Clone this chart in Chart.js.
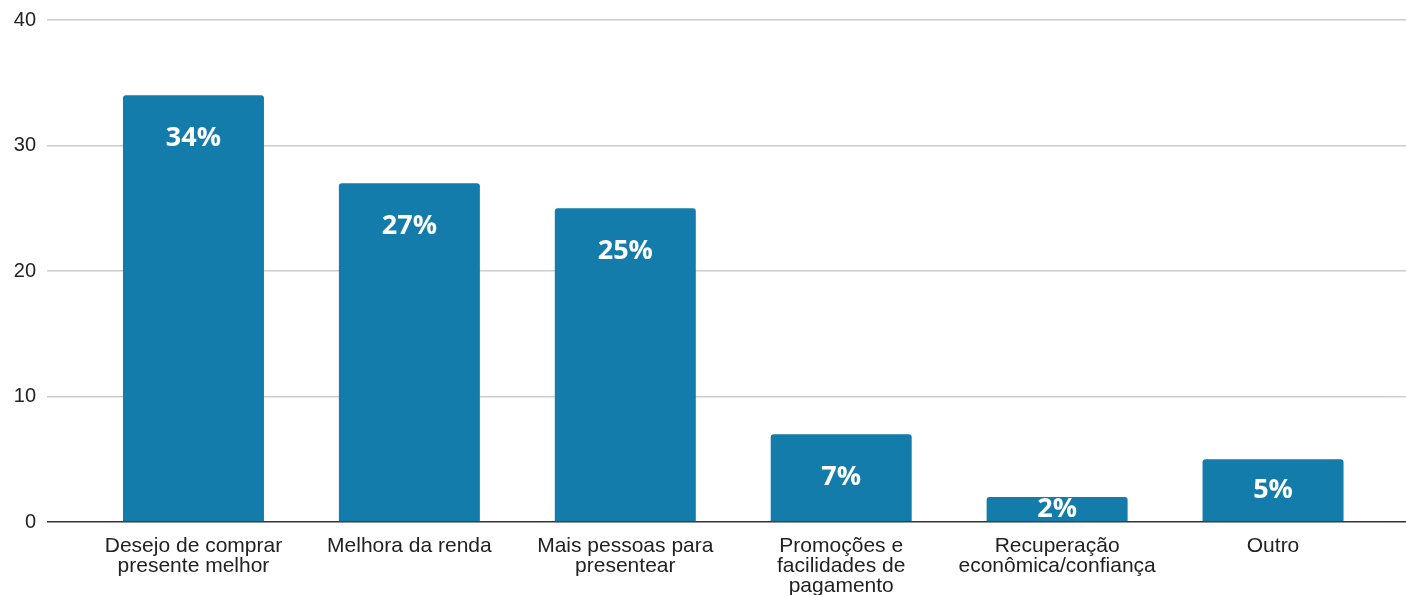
<!DOCTYPE html>
<html>
<head>
<meta charset="utf-8">
<script src="https://cdn.jsdelivr.net/npm/chart.js@4/dist/chart.umd.min.js"></script>
<style>
  html, body { margin: 0; padding: 0; background: #fff; }
  #wrap { width: 1406px; height: 595px; }
</style>
</head>
<body>
<div id="wrap"><canvas id="grafico"></canvas></div>
<script>
// motivos para gastar mais
var categorias = [
    ['Desejo de comprar', 'presente melhor'],
    'Melhora da renda',
    ['Mais pessoas para', 'presentear'],
    ['Promoções e', 'facilidades de', 'pagamento'],
    ['Recuperação', 'econômica/confiança'],
    'Outro'
];
var percentuais = [34, 27, 25, 7, 2, 5];
var ticksY = [0, 10, 20, 30, 40];

var corBarra = '#137cab';

// rótulo branco dentro de cada barra
const rotulosBarras = {
    id: 'rotulosBarras',
    afterDatasetsDraw(chart) {
        const ctx = chart.ctx;
        const meta = chart.getDatasetMeta(0);
        ctx.save();
        ctx.fillStyle = '#ffffff';
        ctx.font = 'bold 27px "Open Sans"';
        ctx.textAlign = 'center';
        ctx.textBaseline = 'middle';
        meta.data.forEach(function (barra, i) {
            var altura = barra.base - barra.y;
            var y = barra.y + Math.min(43, altura / 2);
            ctx.fillText(percentuais[i] + '%', barra.x, y);
        });
        ctx.restore();
    }
};

function corGrade(c) {
    return c.tick && c.tick.value === 0 ? '#333333' : '#cccccc';
}

function ticksFixos(escala) {
    escala.ticks = ticksY.map(function (v) { return { value: v }; });
}

new Chart(document.getElementById('grafico'), {
    type: 'bar',
    data: {
        labels: categorias,
        datasets: [{
            data: percentuais,
            backgroundColor: corBarra,
            borderRadius: { topLeft: 3, topRight: 3, bottomLeft: 0, bottomRight: 0 },
            borderSkipped: false,
            categoryPercentage: 1,
            barPercentage: 0.653
        }]
    },
    options: {
        responsive: true,
        maintainAspectRatio: false,
        animation: false,
        layout: { padding: { top: 20, left: 0, right: 0, bottom: 0 } },
        plugins: {
            legend: { display: false },
            tooltip: { enabled: false }
        },
        scales: {
            x: {
                grid: { display: false, drawTicks: false },
                border: { display: false },
                afterFit: function (escala) {
                    escala.height = 73;
                    escala.paddingLeft = 0;
                    escala.paddingRight = 0;
                },
                ticks: {
                    color: '#222',
                    padding: 14,
                    maxRotation: 0,
                    autoSkip: false,
                    font: { family: '"Liberation Sans", Arial', size: 21, lineHeight: 0.96 }
                }
            },
            y: {
                min: 0,
                max: 40,
                afterBuildTicks: ticksFixos,
                afterFit: function (escala) {
                    escala.width = 85.5;
                    escala.paddingTop = 0;
                    escala.paddingBottom = 0;
                },
                border: { display: false },
                grid: {
                    color: corGrade,
                    lineWidth: 1.5,
                    tickLength: 38.5
                },
                ticks: {
                    color: '#222',
                    padding: 11,
                    font: { family: '"Liberation Sans", Arial', size: 20 }
                }
            },
            // eixo auxiliar só para estender as linhas até a borda direita
            y2: {
                position: 'right',
                min: 0,
                max: 40,
                afterBuildTicks: ticksFixos,
                afterFit: function (escala) {
                    escala.width = 25;
                    escala.paddingTop = 0;
                    escala.paddingBottom = 0;
                },
                border: { display: false },
                grid: {
                    drawOnChartArea: false,
                    color: corGrade,
                    lineWidth: 1.5,
                    tickLength: 25
                },
                ticks: { display: false }
            }
        }
    },
    plugins: [rotulosBarras]
});
</script>
</body>
</html>
